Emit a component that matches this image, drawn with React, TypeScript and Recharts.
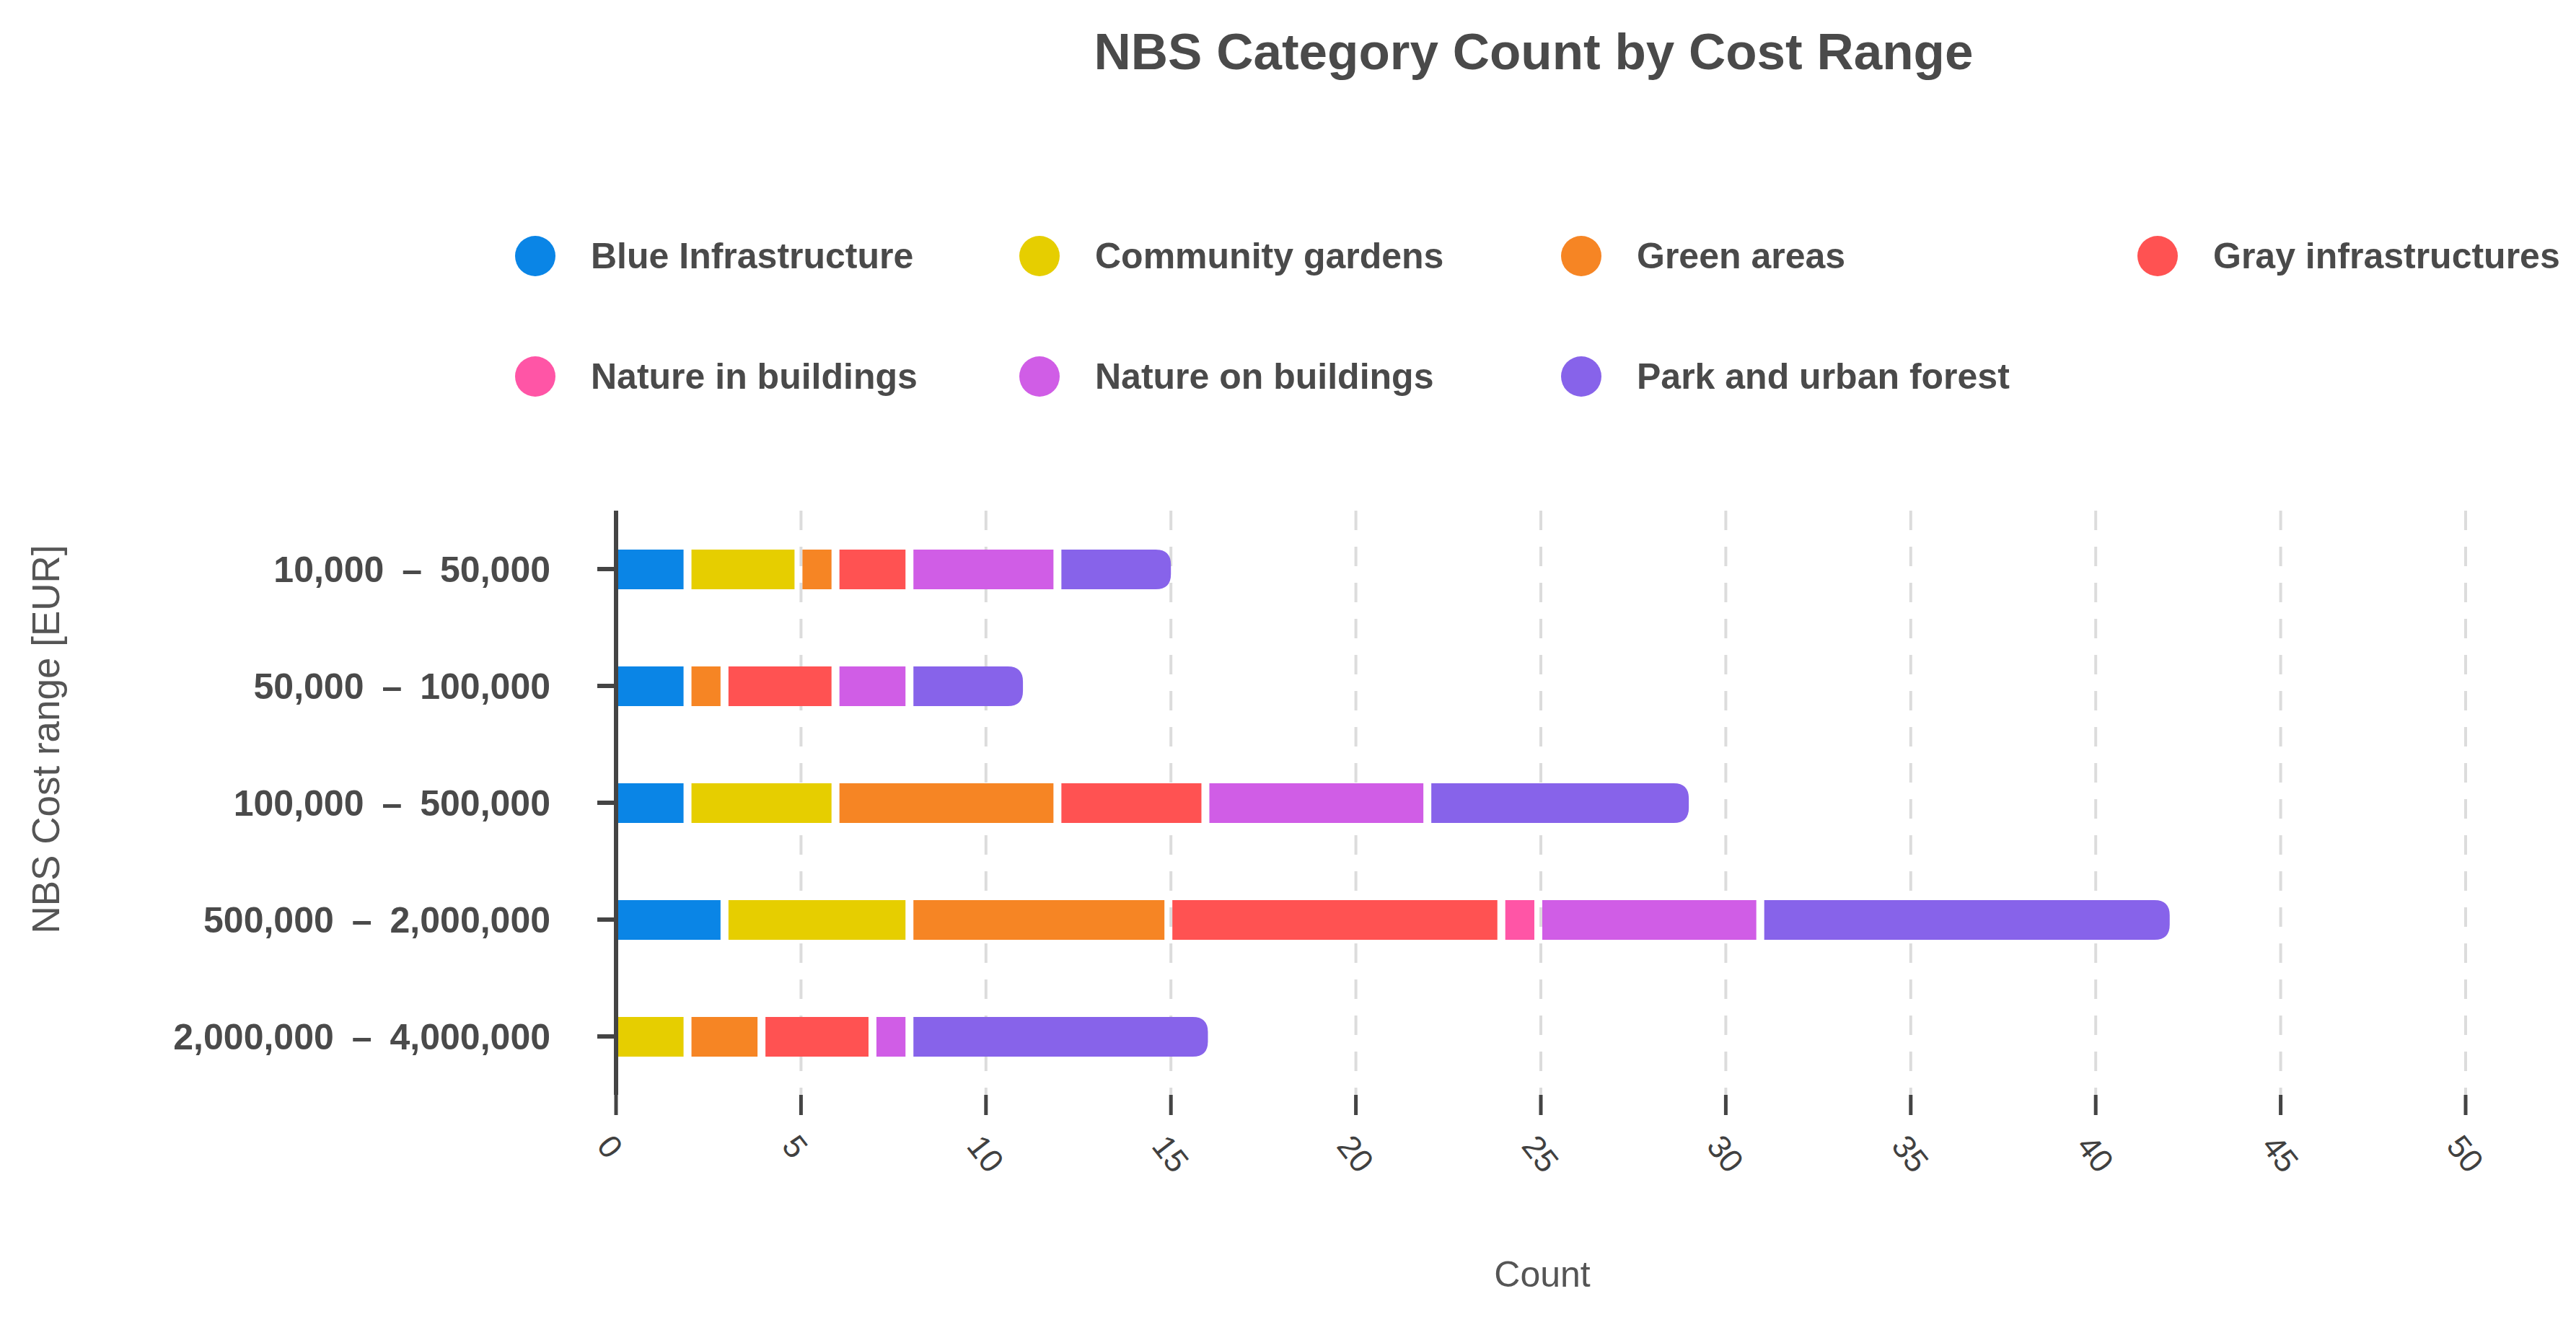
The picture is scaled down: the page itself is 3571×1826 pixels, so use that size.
import React from 'react';
import { BarChart, Bar, XAxis, YAxis, CartesianGrid, Legend } from 'recharts';

const categories = [
  '10,000\u2002–\u200250,000',
  '50,000\u2002–\u2002100,000',
  '100,000\u2002–\u2002500,000',
  '500,000\u2002–\u20022,000,000',
  '2,000,000\u2002–\u20024,000,000',
];

const blueInfrastructure = [2, 2, 2, 3, 0];
const communityGardens = [3, 0, 4, 5, 2];
const greenAreas = [1, 1, 6, 7, 2];
const grayInfrastructures = [2, 3, 4, 9, 3];
const natureInBuildings = [0, 0, 0, 1, 0];
const natureOnBuildings = [4, 2, 6, 6, 1];
const parkAndUrbanForest = [3, 3, 7, 11, 8];

const xTicks = [0, 5, 10, 15, 20, 25, 30, 35, 40, 45, 50];

const seriesDefs = [
  { key: 'blue', name: 'Blue Infrastructure', color: '#0A85E6', values: blueInfrastructure },
  { key: 'community', name: 'Community gardens', color: '#E6CE00', values: communityGardens },
  { key: 'green', name: 'Green areas', color: '#F68524', values: greenAreas },
  { key: 'gray', name: 'Gray infrastructures', color: '#FF5252', values: grayInfrastructures },
  { key: 'natureIn', name: 'Nature in buildings', color: '#FF55A6', values: natureInBuildings },
  { key: 'natureOn', name: 'Nature on buildings', color: '#D05DE6', values: natureOnBuildings },
  { key: 'park', name: 'Park and urban forest', color: '#8763EA', values: parkAndUrbanForest },
];

const data = categories.map((c, i) => {
  const row: any = { range: c };
  seriesDefs.forEach((s) => {
    row[s.key] = s.values[i];
  });
  return row;
});

const FONT = '"Liberation Sans", Arial, sans-serif';
const TEXT = '#4a4a4a';

const Segment = (props: any) => {
  const { x, y, width, height, fill } = props;
  if (!width || width <= 0) return null;
  return <rect x={x + 2} y={y} width={Math.max(width - 11, 0)} height={height} fill={fill} />;
};

const LastSegment = (props: any) => {
  const { x, y, width, height, fill } = props;
  if (!width || width <= 0) return null;
  const r = Math.min(21, height / 2, width);
  const x0 = x + 2;
  const x1 = x + width;
  const d = `M${x0},${y} L${x1 - r},${y} Q${x1},${y} ${x1},${y + r} L${x1},${y + height - r} Q${x1},${y + height} ${x1 - r},${y + height} L${x0},${y + height} Z`;
  return <path d={d} fill={fill} />;
};

const XTick = (props: any) => {
  const { x, y, payload } = props;
  const px = x - 16;
  const py = y + 34;
  return (
    <text
      x={px}
      y={py}
      transform={`rotate(52, ${px}, ${py})`}
      textAnchor="start"
      dominantBaseline="central"
      fontSize={45}
      fill="#404040"
      fontFamily={FONT}
    >
      {payload.value}
    </text>
  );
};

const YTick = (props: any) => {
  const { x, y, payload } = props;
  return (
    <text x={x} y={y} dy={18} textAnchor="end" fontSize={50} fontWeight="bold" fill={TEXT} fontFamily={FONT}>
      {payload.value}
    </text>
  );
};

const legendCols = [742, 1441, 2192, 2991];
const legendRows = [355, 522];

const renderLegend = (props: any) => {
  const payload = props.payload || [];
  const ordered = seriesDefs.map(
    (s) => payload.find((p: any) => p.value === s.name) || { value: s.name, color: s.color }
  );
  return (
    <div style={{ position: 'relative', width: 0, height: 0 }}>
      {ordered.map((entry: any, i: number) => {
        const cx = legendCols[i % 4];
        const cy = legendRows[Math.floor(i / 4)];
        return (
          <div key={entry.value}>
            <div
              style={{
                position: 'absolute',
                left: cx - 28,
                top: cy - 28,
                width: 56,
                height: 56,
                borderRadius: 28,
                background: entry.color,
              }}
            />
            <div
              style={{
                position: 'absolute',
                left: cx + 77,
                top: cy - 28,
                height: 56,
                lineHeight: '56px',
                fontSize: 50,
                fontWeight: 'bold',
                color: TEXT,
                fontFamily: FONT,
                whiteSpace: 'nowrap',
              }}
            >
              {entry.value}
            </div>
          </div>
        );
      })}
    </div>
  );
};

const YTitle = () => (
  <text
    x={63}
    y={1025}
    transform="rotate(-90, 63, 1025)"
    textAnchor="middle"
    dominantBaseline="central"
    fontSize={53}
    fill="#555"
    fontFamily={FONT}
  >
    NBS Cost range [EUR]
  </text>
);

const XTitle = () => (
  <text x={2138} y={1784} textAnchor="middle" fontSize={50} fill="#555" fontFamily={FONT}>
    Count
  </text>
);

export default function App() {
  return (
    <div style={{ position: 'absolute', left: 0, top: 0, width: 3571, height: 1826, background: '#fff', overflow: 'hidden' }}>
      <div
        style={{
          position: 'absolute',
          left: 2126 - 1000,
          width: 2000,
          top: 36,
          textAlign: 'center',
          fontSize: 71,
          lineHeight: '71px',
          fontWeight: 'bold',
          color: TEXT,
          fontFamily: FONT,
        }}
      >
        NBS Category Count by Cost Range
      </div>
      <div style={{ position: 'absolute', left: 0, top: 0 }}>
        <BarChart
          width={3571}
          height={1826}
          data={data}
          layout="vertical"
          margin={{ top: 708, right: 153, bottom: 0, left: 0 }}
        >
          <CartesianGrid
            vertical={true}
            horizontal={false}
            stroke="#dcdcdc"
            strokeWidth={4}
            strokeDasharray="27 23"
          />
          <XAxis
            type="number"
            domain={[0, 50]}
            ticks={xTicks}
            interval={0}
            axisLine={false}
            tickLine={{ stroke: '#444', strokeWidth: 5 }}
            tickSize={28}
            tickMargin={0}
            tick={<XTick />}
            height={308}
            label={XTitle}
          />
          <YAxis
            type="category"
            dataKey="range"
            width={854}
            axisLine={{ stroke: '#444', strokeWidth: 6 }}
            tickLine={{ stroke: '#444', strokeWidth: 6 }}
            tickSize={26}
            tickMargin={65}
            tick={<YTick />}
            interval={0}
            label={YTitle}
          />
          <Legend
            layout="horizontal"
            verticalAlign="middle"
            align="center"
            content={renderLegend}
            wrapperStyle={{ left: 0, top: 0, width: 0, height: 0 }}
          />
          {seriesDefs.map((s, i) => (
            <Bar
              key={s.key}
              dataKey={s.key}
              name={s.name}
              stackId="a"
              fill={s.color}
              barSize={55}
              isAnimationActive={false}
              shape={i === seriesDefs.length - 1 ? <LastSegment /> : <Segment />}
            />
          ))}
        </BarChart>
      </div>
    </div>
  );
}
